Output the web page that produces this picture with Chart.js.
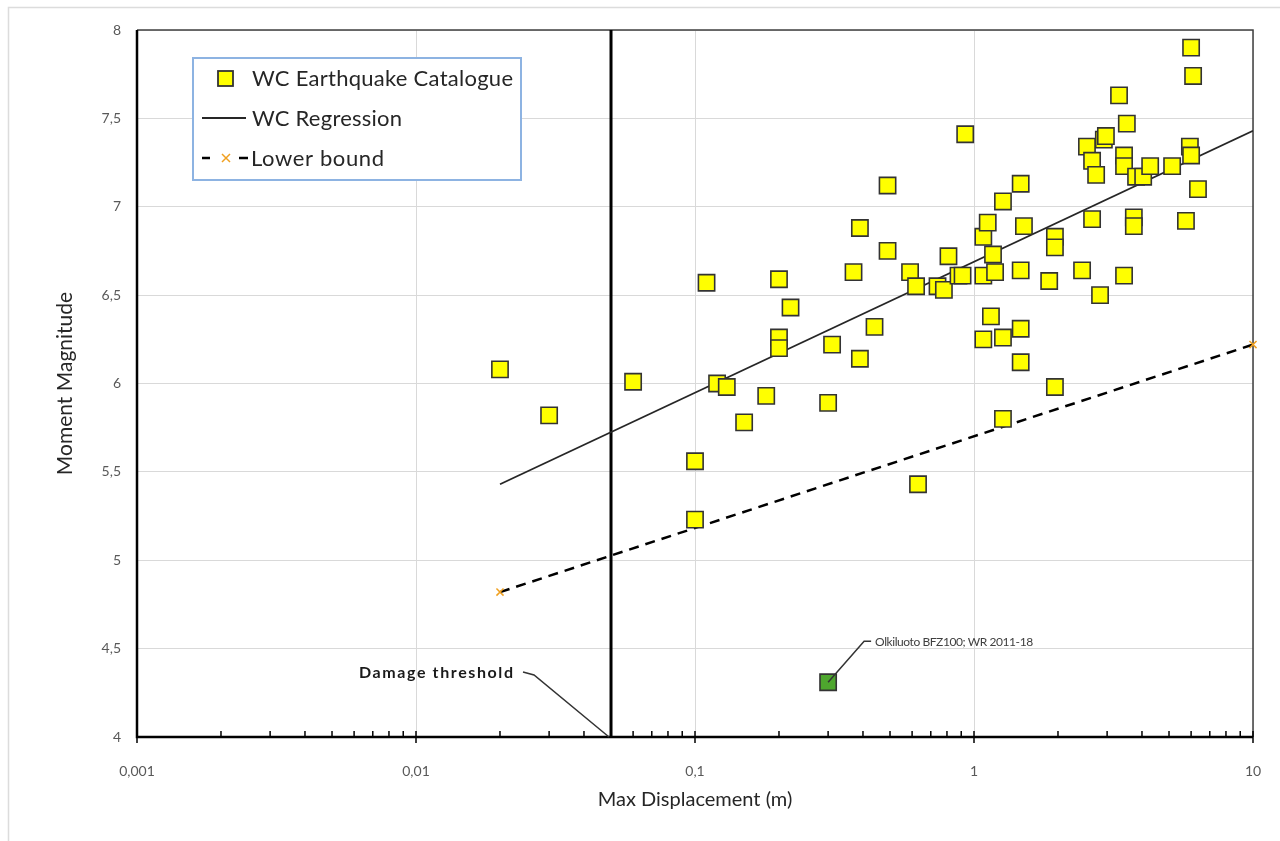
<!DOCTYPE html>
<html><head><meta charset="utf-8">
<script src="https://cdn.jsdelivr.net/npm/chart.js@4.4.0/dist/chart.umd.min.js"></script>
<style>html,body{margin:0;padding:0;background:#fff;overflow:hidden}canvas{display:block}</style>
</head><body>
<canvas id="c" width="1280" height="841"></canvas>
<script>
// ---- data ----
const wcX = [0.02,0.03,0.06,0.11,0.1,0.1,0.12,0.13,0.15,0.18,0.2,0.2,0.2,0.22,0.3,0.31,0.37,0.39,0.39,0.44,
  0.49,0.49,0.59,0.62,0.63,0.74,0.78,0.81,0.88,0.91,0.93,1.08,1.08,1.08,1.12,1.15,1.17,1.19,1.27,1.27,
  1.27,1.47,1.47,1.47,1.47,1.51,1.95,1.95,1.95,1.86,2.44,2.54,2.65,2.65,2.74,2.83,2.92,2.97,3.31,3.45,
  3.45,3.45,3.53,3.74,3.74,3.81,4.04,4.28,5.13,6.0,6.1,5.94,6.0,5.75,6.35];
const wcY = [6.08,5.82,6.01,6.57,5.56,5.23,6.0,5.98,5.78,5.93,6.59,6.26,6.2,6.43,5.89,6.22,6.63,6.88,6.14,6.32,
  7.12,6.75,6.63,6.55,5.43,6.55,6.53,6.72,6.61,6.61,7.41,6.83,6.61,6.25,6.91,6.38,6.73,6.63,7.03,6.26,
  5.8,7.13,6.64,6.31,6.12,6.89,6.83,6.77,5.98,6.58,6.64,7.34,7.26,6.93,7.18,6.5,7.38,7.4,7.63,7.29,
  7.23,6.61,7.47,6.94,6.89,7.17,7.17,7.23,7.23,7.9,7.74,7.34,7.29,6.92,7.1];
const regX = [0.02, 10];
const regY = [5.43, 7.43];
const lowX = [0.02, 10];
const lowY = [4.82, 6.22];
const thresholdX = [0.05, 0.05];
const thresholdY = [4, 8];
const siteX = [0.3];
const siteY = [4.31];
const xTickValues = [0.001, 0.01, 0.1, 1, 10];
const xTickLabels = ['0,001', '0,01', '0,1', '1', '10'];
const yTickValues = [4, 4.5, 5, 5.5, 6, 6.5, 7, 7.5, 8];
const yTickLabels = ['4', '4,5', '5', '5,5', '6', '6,5', '7', '7,5', '8'];
const seriesNames = ['WC Earthquake Catalogue', 'WC Regression', 'Lower bound'];
const annotationTexts = ['Damage threshold', 'Olkiluoto BFZ100; WR 2011-18'];
const xTitle = 'Max Displacement (m)';
const yTitle = 'Moment Magnitude';

const pts = (xs, ys) => xs.map((x, i) => ({x: x, y: ys[i]}));

const YELLOW = '#ffff00', SQ_BORDER = '#333333', GREEN = '#4ea72e', ORANGE = '#f0a020';

function fitText(ctx, text, x, y, target) {
  ctx.letterSpacing = '0px';
  const w = ctx.measureText(text).width;
  const n = Math.max(1, text.length - 1);
  ctx.letterSpacing = ((target - w) / n) + 'px';
  ctx.fillText(text, x, y);
  ctx.letterSpacing = '0px';
}

const framePlugin = {
  id: 'frame',
  beforeDraw(chart) {
    const ctx = chart.ctx;
    ctx.save();
    ctx.fillStyle = '#fff';
    ctx.fillRect(0, 0, chart.width, chart.height);
    ctx.strokeStyle = '#dcdcdc';
    ctx.lineWidth = 1.5;
    ctx.strokeRect(8.5, 7.5, chart.width + 50, chart.height + 50);
    ctx.restore();
  },
  beforeDatasetsDraw(chart) {
    const {ctx, chartArea: a, scales: {x}} = chart;
    ctx.save();
    ctx.strokeStyle = '#404040';
    ctx.lineWidth = 1.5;
    ctx.beginPath();
    ctx.moveTo(a.left, a.top); ctx.lineTo(a.right, a.top); ctx.lineTo(a.right, a.bottom);
    ctx.stroke();
    ctx.strokeStyle = '#000';
    ctx.lineWidth = 2.5;
    ctx.beginPath();
    ctx.moveTo(a.left, a.top); ctx.lineTo(a.left, a.bottom); ctx.lineTo(a.right, a.bottom);
    ctx.stroke();
    ctx.lineWidth = 1.5;
    for (let i = 0; i < xTickValues.length; i++) {
      const v = xTickValues[i];
      const px = x.getPixelForValue(v);
      ctx.beginPath(); ctx.moveTo(px, a.bottom - 6); ctx.lineTo(px, a.bottom + 6); ctx.stroke();
      if (i < xTickValues.length - 1) {
        for (let m = 2; m <= 9; m++) {
          const p = x.getPixelForValue(v * m);
          ctx.beginPath(); ctx.moveTo(p, a.bottom); ctx.lineTo(p, a.bottom - 6); ctx.stroke();
        }
      }
    }
    ctx.restore();
  }
};

const annotationPlugin = {
  id: 'notes',
  afterDatasetsDraw(chart) {
    const {ctx, scales: {x, y}} = chart;
    ctx.save();
    // damage threshold label
    const ax = x.getPixelForValue(thresholdX[0]), ay = y.getPixelForValue(thresholdY[0]);
    ctx.strokeStyle = '#333';
    ctx.lineWidth = 1.5;
    ctx.beginPath();
    ctx.moveTo(ax - 88, ay - 65); ctx.lineTo(ax - 77, ay - 62); ctx.lineTo(ax - 2, ay);
    ctx.stroke();
    ctx.fillStyle = '#1a1a1a';
    ctx.font = 'bold 16px Lato';
    ctx.textAlign = 'left';
    ctx.textBaseline = 'middle';
    fitText(ctx, annotationTexts[0], ax - 252, ay - 64, 154);
    // site label
    const gx = x.getPixelForValue(siteX[0]), gy = y.getPixelForValue(siteY[0]);
    ctx.beginPath();
    ctx.moveTo(gx, gy); ctx.lineTo(gx + 36, gy - 41); ctx.lineTo(gx + 43, gy - 41);
    ctx.stroke();
    ctx.fillStyle = '#404040';
    ctx.font = '12px Lato';
    fitText(ctx, annotationTexts[1], gx + 47, gy - 40, 158);
    ctx.restore();
  }
};

const legendPlugin = {
  id: 'boxLegend',
  afterDraw(chart) {
    const ctx = chart.ctx;
    const bx = 193, by = 58, bw = 328, bh = 122;
    ctx.save();
    ctx.fillStyle = '#fff';
    ctx.fillRect(bx, by, bw, bh);
    ctx.strokeStyle = '#8db3e2';
    ctx.lineWidth = 2;
    ctx.strokeRect(bx, by, bw, bh);
    ctx.font = '22px Lato';
    ctx.fillStyle = '#262626';
    ctx.textBaseline = 'middle';
    ctx.textAlign = 'left';
    // row 1
    ctx.fillStyle = YELLOW; ctx.strokeStyle = SQ_BORDER; ctx.lineWidth = 1.8;
    ctx.fillRect(218, 71, 15, 15); ctx.strokeRect(218, 71, 15, 15);
    ctx.fillStyle = '#262626';
    fitText(ctx, seriesNames[0], 252, 79, 261);
    // row 2
    ctx.strokeStyle = '#262626'; ctx.lineWidth = 1.8;
    ctx.beginPath(); ctx.moveTo(202, 118); ctx.lineTo(246, 118); ctx.stroke();
    fitText(ctx, seriesNames[1], 252, 119, 150);
    // row 3
    ctx.strokeStyle = '#000'; ctx.lineWidth = 2.5;
    ctx.beginPath(); ctx.moveTo(202, 158); ctx.lineTo(210, 158); ctx.moveTo(239, 158); ctx.lineTo(248, 158); ctx.stroke();
    ctx.strokeStyle = ORANGE; ctx.lineWidth = 1.5;
    ctx.beginPath(); ctx.moveTo(222, 154); ctx.lineTo(230, 162); ctx.moveTo(230, 154); ctx.lineTo(222, 162); ctx.stroke();
    fitText(ctx, seriesNames[2], 251, 159, 133);
    ctx.restore();
  }
};

new Chart(document.getElementById('c'), {
  type: 'scatter',
  data: {
    datasets: [
      {label: seriesNames[0], data: pts(wcX, wcY), pointStyle: 'rect', pointRadius: 11.5, pointHoverRadius: 11.5,
        backgroundColor: YELLOW, borderColor: SQ_BORDER, borderWidth: 1.6, order: 0},
      {label: 'Site', data: pts(siteX, siteY), pointStyle: 'rect', pointRadius: 11.5, pointHoverRadius: 11.5,
        backgroundColor: GREEN, borderColor: SQ_BORDER, borderWidth: 1.6, order: 0},
      {label: seriesNames[1], data: pts(regX, regY), showLine: true, pointRadius: 0, borderColor: '#262626',
        borderWidth: 1.8, order: 1},
      {label: seriesNames[2], data: pts(lowX, lowY), showLine: true, borderDash: [10, 7], borderColor: '#000',
        borderWidth: 2.5, pointStyle: 'crossRot', pointRadius: 5, pointBorderColor: ORANGE,
        pointBackgroundColor: ORANGE, pointBorderWidth: 1.5, order: 2, clip: false},
      {label: 'Damage threshold', data: pts(thresholdX, thresholdY), showLine: true, pointRadius: 0,
        borderColor: '#000', borderWidth: 3, order: 3}
    ]
  },
  options: {
    responsive: false,
    devicePixelRatio: 1,
    animation: false,
    events: [],
    layout: {autoPadding: false, padding: {top: 30, right: 27, left: 0, bottom: 0}},
    plugins: {legend: {display: false}, tooltip: {enabled: false}},
    scales: {
      x: {
        type: 'logarithmic', min: 0.001, max: 10,
        afterBuildTicks: (s) => { s.ticks = xTickValues.map(v => ({value: v, major: true})); },
        afterFit: (s) => { s.height = 104; s.paddingLeft = 0; s.paddingRight = 0; },
        ticks: {autoSkip: false, maxRotation: 0, padding: 26, color: '#595959',
          font: {family: 'Lato', size: 14},
          callback: (v, i) => xTickLabels[i]},
        grid: {color: '#d9d9d9', lineWidth: 1, drawTicks: false},
        border: {display: false},
        title: {display: true, text: xTitle, color: '#262626', font: {family: 'Lato', size: 20},
          padding: {top: 0, bottom: 29}}
      },
      y: {
        type: 'linear', min: 4, max: 8,
        afterBuildTicks: (s) => { s.ticks = yTickValues.map(v => ({value: v})); },
        afterFit: (s) => { s.width = 137; s.paddingTop = 0; s.paddingBottom = 0; },
        ticks: {padding: 16, color: '#595959', font: {family: 'Lato', size: 14},
          callback: (v, i) => yTickLabels[i]},
        grid: {color: '#d9d9d9', lineWidth: 1, drawTicks: false},
        border: {display: false},
        title: {display: true, text: yTitle, color: '#262626', font: {family: 'Lato', size: 21},
          padding: {top: 53, bottom: 0}}
      }
    }
  },
  plugins: [framePlugin, annotationPlugin, legendPlugin]
});
</script>
</body></html>
